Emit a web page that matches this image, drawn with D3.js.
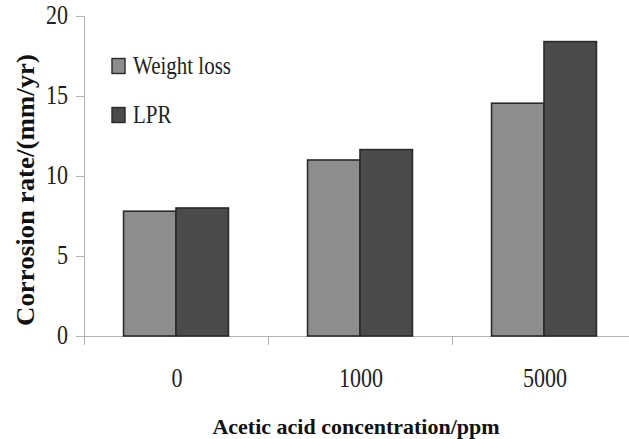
<!DOCTYPE html>
<html><head><meta charset="utf-8">
<script src="https://cdn.jsdelivr.net/npm/d3@7"></script>
<style>body{margin:0;background:#fff;} svg{display:block;}</style>
</head><body>
<svg id="c" width="629" height="439"></svg>
<script>
const categories = ["0", "1000", "5000"];
const seriesNames = ["Weight loss", "LPR"];
const weightLoss = [7.8, 11.0, 14.55];
const lpr = [8.0, 11.65, 18.4];
const yTicks = [0, 5, 10, 15, 20];
const colors = ["#8d8d8d", "#4b4b4b"];

const FF = "'Liberation Serif'";
const svg = d3.select("#c");
const x = d3.scaleBand().domain(categories).range([84, 636]).paddingInner(0.43).paddingOuter(0.215);
const xs = d3.scaleBand().domain(seriesNames).range([0, x.bandwidth()]);
const y = d3.scaleLinear().domain([0, 20]).range([336, 16]);

// y axis
const ya = svg.append("g").attr("transform", "translate(84,0)")
  .call(d3.axisLeft(y).tickValues(yTicks).tickSize(8).tickPadding(8));
ya.attr("font-family", null).attr("font-size", null);
ya.select(".domain").attr("stroke", "#b3b3b3").attr("d", "M-8,16.5H0.5V336");
ya.selectAll(".tick line").attr("stroke", "#b3b3b3");
ya.selectAll("text").style("font-family", FF).style("font-size", "22px").attr("fill", "#222")
  .attr("dy", "5.6").attr("transform", "scale(1,1.25)");

// x axis
const xa = svg.append("g").attr("transform", "translate(0,336)");
xa.append("line").attr("x1", 84).attr("x2", 629).attr("y1", 0.5).attr("y2", 0.5).attr("stroke", "#b3b3b3");
const bounds = [84, 84 + x.step(), 84 + 2 * x.step(), 84 + 3 * x.step()];
xa.selectAll("line.t").data(bounds).enter().append("line")
  .attr("x1", d => d + 0.5).attr("x2", d => d + 0.5).attr("y1", 0).attr("y2", 9).attr("stroke", "#b3b3b3");
xa.selectAll("text").data(categories).enter().append("text")
  .attr("transform", d => `translate(${x(d) + x.bandwidth() / 2 + 1},51) scale(1,1.25)`)
  .attr("text-anchor", "middle").style("font-family", FF).style("font-size", "22px").attr("fill", "#222").text(d => d);

// bars
const data = categories.map((c, i) => ({c, vals: [weightLoss[i], lpr[i]]}));
const g = svg.selectAll("g.grp").data(data).enter().append("g").attr("transform", d => `translate(${x(d.c)},0)`);
g.selectAll("rect").data(d => d.vals.map((v, j) => ({v, s: seriesNames[j], j}))).enter().append("rect")
  .attr("x", d => xs(d.s)).attr("width", xs.bandwidth())
  .attr("y", d => y(d.v)).attr("height", d => y(0) - y(d.v))
  .attr("fill", d => colors[d.j]).attr("stroke", "#2a2a2a").attr("stroke-width", 1.6);

// legend
const lg = svg.append("g");
seriesNames.forEach((s, i) => {
  const base = 74 + i * 49;
  lg.append("rect").attr("x", 112).attr("y", base - 15.5).attr("width", 13).attr("height", 15)
    .attr("fill", colors[i]).attr("stroke", "#2a2a2a").attr("stroke-width", 1.4);
  lg.append("text").attr("transform", `translate(133,${base}) scale(1,1.2)`)
    .style("font-family", FF).style("font-size", "21px").attr("fill", "#222").text(s);
});

// titles
svg.append("text").attr("x", 356).attr("y", 434).attr("text-anchor", "middle")
  .style("font-family", FF).style("font-weight", "bold").style("font-size", "22px").attr("fill", "#111")
  .text("Acetic acid concentration/ppm");
svg.append("text").attr("transform", "translate(34,190) rotate(-90)").attr("text-anchor", "middle")
  .style("font-family", FF).style("font-weight", "bold").style("font-size", "25px").attr("fill", "#111")
  .attr("textLength", 272).attr("lengthAdjust", "spacingAndGlyphs")
  .text("Corrosion rate/(mm/yr)");
</script>
</body></html>
